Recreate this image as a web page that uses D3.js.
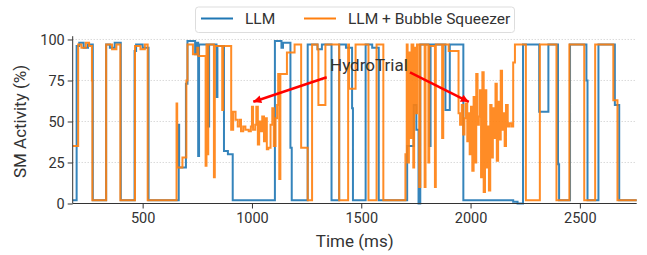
<!DOCTYPE html>
<html>
<head>
<meta charset="utf-8">
<script src="https://cdn.jsdelivr.net/npm/d3@7"></script>
<style>
  body { margin: 0; background: #fff; }
  text { font-family: Roboto, "DejaVu Sans", sans-serif; fill: #333; }
</style>
</head>
<body>
<div class="chart"></div>
<script>
// LLM series: change points (ms) and SM activity (%)
const llmTime = [180, 198, 210, 230, 250, 272, 333, 350, 372, 400, 463, 470, 500, 527,
  665, 667, 698, 705, 740, 746, 754, 758, 800, 804, 838, 842, 872, 890, 912,
  1105, 1135, 1142, 1176, 1182, 1255, 1300, 1320, 1364, 1399, 1430, 1458, 1462,
  1520, 1550, 1580, 1710, 1740, 1752, 1762, 1770, 1812, 1817, 1885, 1905, 1967,
  2195, 2215, 2240, 2314, 2356, 2400, 2405, 2455, 2530, 2535, 2585, 2660, 2680, 2760];
const llmSM = [2, 96, 98, 95, 97, 2, 97, 95, 98, 2, 93, 97, 95, 2,
  48, 22, 73, 99, 91, 98, 29, 97, 47, 97, 65, 96, 32, 30, 2,
  99, 95, 98, 34, 2, 97, 94, 97, 2, 97, 95, 58, 2,
  97, 95, 2, 35, 60, 45, 0, 97, 35, 97, 57, 97, 2,
  1, 0, 97, 56, 97, 24, 2, 97, 75, 2, 97, 60, 2, 2];

// LLM + Bubble Squeezer series
const bsTime = [180, 205, 220, 240, 255, 268, 270, 333, 360, 380, 398, 465, 490, 510, 523,
  655, 658, 682, 700, 705, 730, 750, 755, 788, 792, 796, 800, 826, 830, 864, 868, 905,
  914, 925, 935, 945, 950, 960, 970, 985, 995, 1000, 1005, 1015, 1020, 1027, 1033, 1040,
  1047, 1055, 1062, 1068, 1075, 1085, 1093, 1100, 1108, 1115,
  1120, 1125, 1130, 1160, 1195, 1225, 1255, 1275, 1300, 1304, 1336, 1399, 1440, 1444, 1474,
  1533, 1570, 1601, 1702, 1708, 1712, 1718, 1725, 1730, 1738, 1742, 1750, 1755, 1765, 1770,
  1790, 1794, 1807, 1811, 1837, 1841, 1870, 1875, 1900, 1945,
  1952, 1960, 1966, 1972, 1978, 1985, 1990, 1996, 2002, 2008, 2014, 2020, 2026, 2032,
  2038, 2043, 2048, 2054, 2060, 2066, 2072, 2078, 2084, 2090, 2096, 2102, 2108, 2114,
  2120, 2126, 2132, 2138, 2144, 2150, 2156, 2162, 2170, 2178, 2188, 2195, 2203,
  2253, 2317, 2393, 2452, 2520, 2570, 2653, 2672, 2760];
const bsSM = [35, 97, 95, 98, 96, 75, 2, 97, 94, 97, 2, 96, 94, 97, 2,
  61, 22, 28, 75, 97, 91, 95, 90, 23, 97, 30, 97, 16, 96, 57, 96, 45,
  56, 51, 47, 51, 44, 47, 45, 44, 47, 59, 45, 48, 59, 36, 50, 44,
  53, 38, 52, 33, 34, 48, 58, 35, 52, 60,
  79, 15, 79, 92, 97, 34, 2, 97, 94, 60, 97, 2, 97, 70, 97,
  2, 97, 2, 30, 97, 25, 92, 40, 97, 22, 95, 55, 97, 10, 97,
  10, 97, 25, 96, 10, 97, 40, 97, 93, 55,
  48, 60, 42, 52, 61, 38, 55, 30, 59, 20, 65, 25, 79, 48,
  53, 69, 16, 80, 7, 69, 22, 47, 8, 60, 28, 58, 40, 73,
  26, 62, 39, 81, 45, 55, 35, 60, 47, 49, 47, 86, 97,
  2, 97, 2, 97, 2, 97, 63, 2, 2];

const yTicks = [0, 25, 50, 75, 100];
const xTicks = [500, 1000, 1500, 2000, 2500];
const seriesNames = ["LLM", "LLM + Bubble Squeezer"];
const seriesColors = ["#1f77b4", "#ff7f0e"];

// HydroTrial annotation: label position and arrow targets (data space)
const noteLabel = {t: 1535, v: 81, text: "HydroTrial"};
const noteFrom = [[1342, 77], [1723, 80]];
const noteTo = [[1006, 62], [1992, 62]];

const width = 647, height = 255;
const svg = d3.select(".chart").append("svg")
  .attr("width", width).attr("height", height);

const x = d3.scaleLinear().domain([180, 2760]).range([72.7, 636.7]);
const y = d3.scaleLinear().domain([0, 102]).range([203.5, 36.2]);

// dotted grid
svg.append("g").selectAll("line")
  .data(yTicks.filter(d => d > 0))
  .enter().append("line")
  .attr("x1", x.range()[0]).attr("x2", x.range()[1])
  .attr("y1", d => y(d)).attr("y2", d => y(d))
  .attr("stroke", "#bbb").attr("stroke-width", 0.8)
  .attr("stroke-dasharray", "1,2");

const series = [
  llmTime.map((t, i) => [t, llmSM[i]]),
  bsTime.map((t, i) => [t, bsSM[i]])
];
const line = d3.line()
  .x(d => x(d[0])).y(d => y(d[1]))
  .curve(d3.curveStepAfter);

svg.append("g").selectAll("path")
  .data(series)
  .enter().append("path")
  .attr("d", line)
  .attr("fill", "none")
  .attr("stroke", (d, i) => seriesColors[i])
  .attr("stroke-opacity", 0.9)
  .attr("stroke-width", 2)
  .attr("stroke-linejoin", "miter");

// axes
const xAxis = svg.append("g")
  .attr("transform", `translate(0,${y(0)})`)
  .call(d3.axisBottom(x).tickValues(xTicks).tickFormat(d3.format("d"))
    .tickSize(5).tickPadding(4));
const yAxis = svg.append("g")
  .attr("transform", `translate(${x.range()[0]},0)`)
  .call(d3.axisLeft(y).tickValues(yTicks).tickFormat(d3.format("d"))
    .tickSize(5).tickPadding(3));
[xAxis, yAxis].forEach(g => {
  g.select(".domain").attr("stroke", "#333");
  g.selectAll(".tick line").attr("stroke", "#333");
  g.selectAll(".tick text").attr("font-size", 14.5).attr("fill", "#333")
    .attr("font-family", "Roboto, sans-serif");
});
xAxis.select(".domain").attr("d", `M${x.range()[0]},0H${x.range()[1]}`);
yAxis.select(".domain").attr("d", `M0,${y(0)}V${y(102)}`);

svg.append("text")
  .attr("x", (x.range()[0] + x.range()[1]) / 2).attr("y", 247)
  .attr("text-anchor", "middle").attr("font-size", 17)
  .text("Time (ms)");
svg.append("text")
  .attr("transform", `translate(26,${(y(0) + y(100)) / 2}) rotate(-90)`)
  .attr("text-anchor", "middle").attr("font-size", 17)
  .text("SM Activity (%)");

// annotation
svg.append("defs").append("marker")
  .attr("id", "head").attr("viewBox", "0 0 10 10")
  .attr("refX", 10).attr("refY", 5)
  .attr("markerWidth", 10).attr("markerHeight", 8)
  .attr("markerUnits", "userSpaceOnUse")
  .attr("orient", "auto")
  .append("path").attr("d", "M0,0L10,5L0,10Z").attr("fill", "red");
svg.append("g").selectAll("line")
  .data(noteFrom)
  .enter().append("line")
  .attr("x1", d => x(d[0])).attr("y1", d => y(d[1]))
  .attr("x2", (d, i) => x(noteTo[i][0])).attr("y2", (d, i) => y(noteTo[i][1]))
  .attr("stroke", "red").attr("stroke-width", 2.5)
  .attr("marker-end", "url(#head)");
svg.append("text")
  .attr("x", x(noteLabel.t)).attr("y", y(noteLabel.v))
  .attr("text-anchor", "middle").attr("font-size", 17)
  .text(noteLabel.text);

// legend
const legend = svg.append("g");
legend.append("rect")
  .attr("x", 195.5).attr("y", 7).attr("width", 319).attr("height", 25.5)
  .attr("rx", 3).attr("fill", "white").attr("fill-opacity", 0.85)
  .attr("stroke", "#ddd");
const legendX = [201, 304];
legend.selectAll("line.key")
  .data(seriesNames)
  .enter().append("line")
  .attr("x1", (d, i) => legendX[i]).attr("x2", (d, i) => legendX[i] + 32)
  .attr("y1", 18.5).attr("y2", 18.5)
  .attr("stroke", (d, i) => seriesColors[i]).attr("stroke-width", 2);
legend.selectAll("text")
  .data(seriesNames)
  .enter().append("text")
  .attr("x", (d, i) => legendX[i] + 44).attr("y", 24)
  .attr("font-size", 15.5)
  .text(d => d);
</script>
</body>
</html>
